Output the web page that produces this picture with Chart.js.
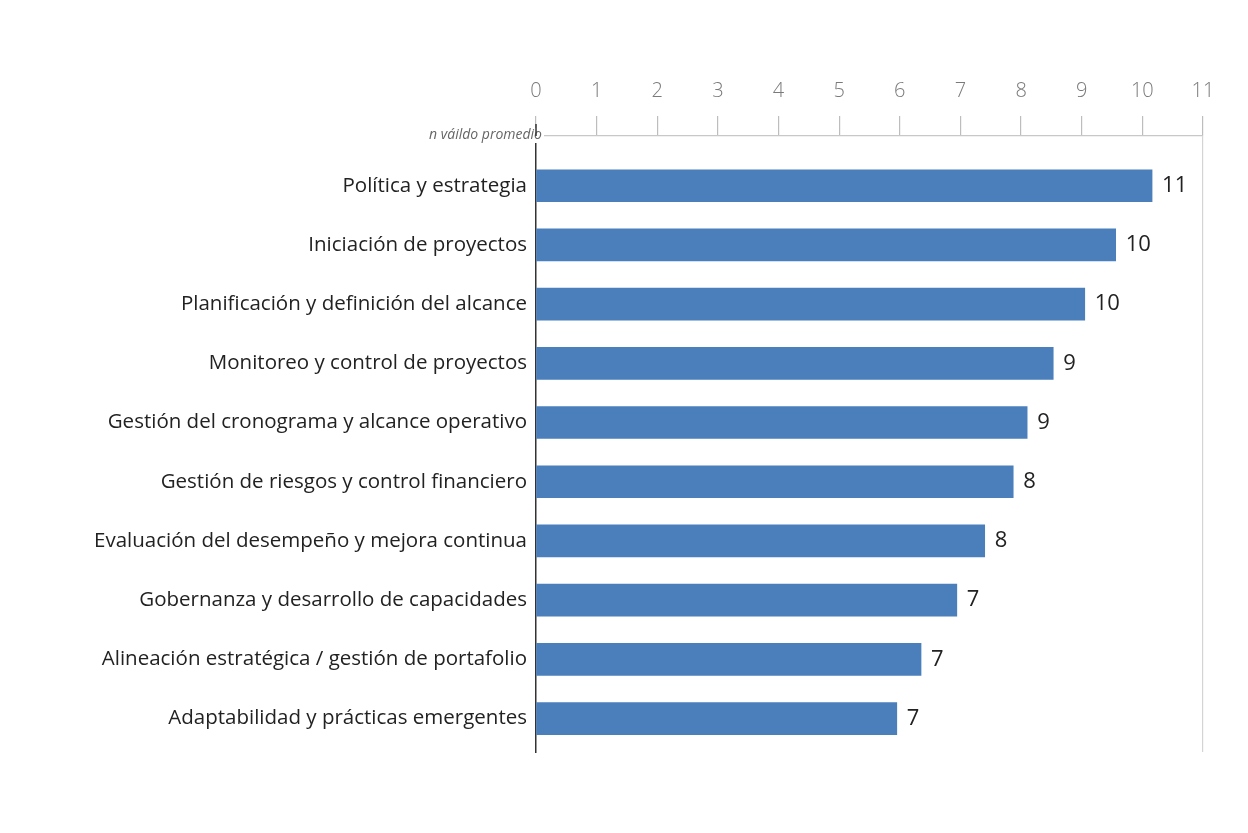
<!DOCTYPE html>
<html><head><meta charset="utf-8">
<script src="https://cdn.jsdelivr.net/npm/chart.js@4"></script>
<style>html,body{margin:0;padding:0;background:#fff}#wrap{width:1248px;height:833px}</style>
</head><body><div id="wrap"><canvas id="c" width="1248" height="833"></canvas></div>
<script>
const categories = [
  'Política y estrategia',
  'Iniciación de proyectos',
  'Planificación y definición del alcance',
  'Monitoreo y control de proyectos',
  'Gestión del cronograma y alcance operativo',
  'Gestión de riesgos y control financiero',
  'Evaluación del desempeño y mejora continua',
  'Gobernanza y desarrollo de capacidades',
  'Alineación estratégica / gestión de portafolio',
  'Adaptabilidad y prácticas emergentes'
];
const values = [10.16, 9.56, 9.05, 8.53, 8.10, 7.87, 7.40, 6.94, 6.35, 5.95];
const valueLabels = ['11', '10', '10', '9', '9', '8', '8', '7', '7', '7'];
const tickLabels = ['0','1','2','3','4','5','6','7','8','9','10','11'];
const axisNote = 'n váildo promedio';

const FONT = "'Open Sans', 'DejaVu Sans', sans-serif";

const labelPlugin = {
  id: 'valueLabels',
  afterDatasetsDraw(chart) {
    const ctx = chart.ctx;
    const meta = chart.getDatasetMeta(0);
    ctx.save();
    ctx.font = '22px ' + FONT;
    ctx.fillStyle = '#222';
    ctx.textAlign = 'left';
    ctx.textBaseline = 'middle';
    meta.data.forEach((bar, i) => {
      ctx.fillText(valueLabels[i], bar.x + 10, bar.y);
    });
    ctx.restore();
  },
  afterDraw(chart) {
    const ctx = chart.ctx;
    const a = chart.chartArea;
    ctx.save();
    ctx.font = 'italic 14px ' + FONT;
    ctx.textAlign = 'right';
    ctx.textBaseline = 'middle';
    const w = ctx.measureText(axisNote).width;
    ctx.fillStyle = '#fff';
    ctx.fillRect(a.left + 6 - w - 2, a.top - 8, w + 4, 15);
    ctx.fillStyle = '#666';
    ctx.fillText(axisNote, a.left + 6, a.top - 1);
    ctx.strokeStyle = '#333';
    ctx.lineWidth = 1.5;
    ctx.beginPath();
    ctx.moveTo(a.left, a.top - 12);
    ctx.lineTo(a.left, a.top);
    ctx.stroke();
    ctx.restore();
  }
};

new Chart(document.getElementById('c'), {
  type: 'bar',
  data: {
    datasets: [{
      data: values.map((v, i) => ({ x: v, y: i })),
      backgroundColor: '#4a7fbc',
      borderWidth: 0,
      barThickness: 32
    }]
  },
  options: {
    indexAxis: 'y',
    responsive: false,
    animation: false,
    layout: { padding: { top: 66, right: 45, bottom: 81, left: 0 } },
    plugins: { legend: { display: false }, tooltip: { enabled: false } },
    scales: {
      x: {
        type: 'linear',
        position: 'top',
        min: 0,
        max: 11,
        ticks: {
          stepSize: 1,
          color: '#7a7a7a',
          padding: 13,
          font: { family: FONT, size: 20, weight: '300' },
          callback: (v) => tickLabels[v]
        },
        grid: {
          drawOnChartArea: true,
          color: (c) => (c.tick && c.tick.value === 11) ? '#d4d4d4' : 'rgba(0,0,0,0)',
          tickColor: '#bdbdbd',
          tickLength: 20,
          lineWidth: 1.2
        },
        border: { display: true, color: '#c8c8c8', width: 1.2 }
      },
      y: {
        type: 'linear',
        reverse: true,
        offset: false,
        min: -0.84,
        max: 9.565,
        afterBuildTicks: (scale) => { scale.ticks = categories.map((_, i) => ({ value: i })); },
        afterFit: (scale) => { scale.width = 536; },
        ticks: {
          color: '#222',
          padding: 9,
          autoSkip: false,
          font: { family: FONT, size: 20.5 },
          callback: (v) => categories[v]
        },
        grid: { offset: false, drawOnChartArea: false, drawTicks: false },
        border: { display: true, color: '#333', width: 1.5 }
      }
    }
  },
  plugins: [labelPlugin]
});
</script>
</body></html>
